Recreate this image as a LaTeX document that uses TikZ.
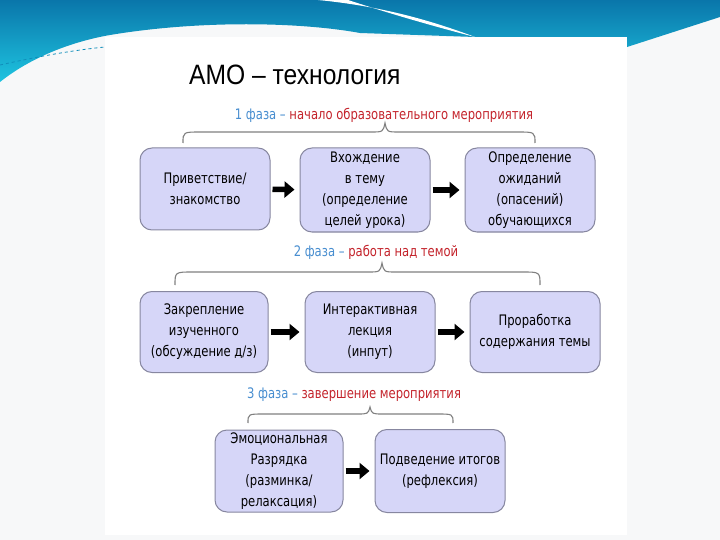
\documentclass[tikz,border=0pt]{standalone}
\usepackage{fontspec}
\setmainfont{DejaVu Sans}[FakeStretch=0.8]
\newfontfamily\titlefont{Liberation Sans}[FakeStretch=0.88]
\usetikzlibrary{arrows.meta}
\definecolor{bgslide}{RGB}{247,248,249}
\definecolor{wavetop}{RGB}{10,118,170}
\definecolor{wavebot}{RGB}{30,196,224}
\definecolor{boxfill}{RGB}{214,214,248}
\definecolor{boxline}{RGB}{135,135,160}
\definecolor{phblue}{RGB}{72,142,208}
\definecolor{phred}{RGB}{196,36,44}
\definecolor{bracecol}{RGB}{128,128,128}
\tikzset{
  stepbox/.style={draw=boxline, line width=1pt, fill=boxfill, rounded corners=12pt,
    minimum width=130pt, inner sep=0pt, align=center,
    font=\fontsize{14.5}{21}\selectfont},
  flowarrow/.style={line width=5.5pt, -{Triangle[length=10pt,width=16pt]},
    shorten <=2pt, shorten >=5pt},
  bracepath/.style={draw=bracecol, line width=1.1pt},
  phaselabel/.style={inner sep=0pt, font=\fontsize{14.5}{16}\selectfont}
}
\begin{document}
\begin{tikzpicture}[x=1pt,y=-1pt]
\useasboundingbox (0,0) rectangle (720,540);
% slide background
\fill[bgslide] (0,0) rectangle (720,540);
% blue wave band
\shade[top color=wavetop, bottom color=wavebot]
  (0,0) -- (720,0) -- (720,17) -- (627,47) -- (627,37) -- (475,37) -- (360,33)
  .. controls (300,22) and (200,20) .. (110,35)
  .. controls (70,42) and (30,58) .. (0,82) -- cycle;
% white streak
\fill[white] (318,0) .. controls (380,6) and (430,20) .. (475,37)
  .. controls (425,24) and (385,12) .. (348,0) -- cycle;
% thin dashed wave line
\draw[wavetop!70!wavebot, line width=0.8pt, dashed] (0,65) .. controls (40,56) and (75,50) .. (105,47);
% pasted picture area
\fill[white] (105,37) rectangle (627,535);
% title
\node[anchor=west, inner sep=0pt, font=\titlefont\fontsize{28}{30}\selectfont] (title) at (189,75) {АМО – технология};

% phase 1
\node[phaselabel] (ph1) at (384,115) {\color{phblue}1 фаза –\ \color{phred}начало образовательного мероприятия};
\coordinate (b1l) at (183,143); \coordinate (b1t) at (385,123); \coordinate (b1r) at (535,143);
\draw[bracepath] (b1l) .. controls (183,132) .. (201,132) -- (371,132)
  .. controls (383,132) .. (b1t) .. controls (387,132) .. (399,132) -- (517,132)
  .. controls (535,132) .. (b1r);
\node[stepbox, minimum height=82pt] (a) at (205,189) {Приветствие/\\знакомство};
\node[stepbox, minimum height=84pt] (b) at (365,190) {Вхождение\\в тему\\(определение\\целей урока)};
\node[stepbox, minimum height=84pt] (c) at (530,190) {Определение\\ожиданий\\(опасений)\\обучающихся};
\draw[flowarrow] (a) -- (b);
\draw[flowarrow] (b) -- (c);

% phase 2
\node[phaselabel] (ph2) at (376,252) {\color{phblue}2 фаза –\ \color{phred}работа над темой};
\coordinate (b2l) at (175,285); \coordinate (b2t) at (382,263); \coordinate (b2r) at (540,285);
\draw[bracepath] (b2l) .. controls (175,272) .. (193,272) -- (368,272)
  .. controls (380,272) .. (b2t) .. controls (384,272) .. (396,272) -- (522,272)
  .. controls (540,272) .. (b2r);
\node[stepbox, minimum width=128pt, minimum height=81pt] (d) at (204,332) {Закрепление\\изученного\\(обсуждение д/з)};
\node[stepbox, minimum height=81pt] (e) at (370,332) {Интерактивная\\лекция\\(инпут)};
\node[stepbox, minimum height=81pt] (f) at (535,332) {Проработка\\содержания темы};
\draw[flowarrow] (d) -- (e);
\draw[flowarrow] (e) -- (f);

% phase 3
\node[phaselabel] (ph3) at (354,395) {\color{phblue}3 фаза –\ \color{phred}завершение мероприятия};
\coordinate (b3l) at (248,423); \coordinate (b3t) at (370,407); \coordinate (b3r) at (453,423);
\draw[bracepath] (b3l) .. controls (248,414) .. (264,414) -- (357,414)
  .. controls (368,414) .. (b3t) .. controls (372,414) .. (383,414) -- (437,414)
  .. controls (453,414) .. (b3r);
\node[stepbox, minimum width=128pt, minimum height=82pt] (g) at (279,471) {Эмоциональная\\Разрядка\\(разминка/\\релаксация)};
\node[stepbox, minimum height=83pt] (h) at (440,471) {Подведение итогов\\(рефлексия)};
\draw[flowarrow] (g) -- (h);
\end{tikzpicture}
\end{document}
